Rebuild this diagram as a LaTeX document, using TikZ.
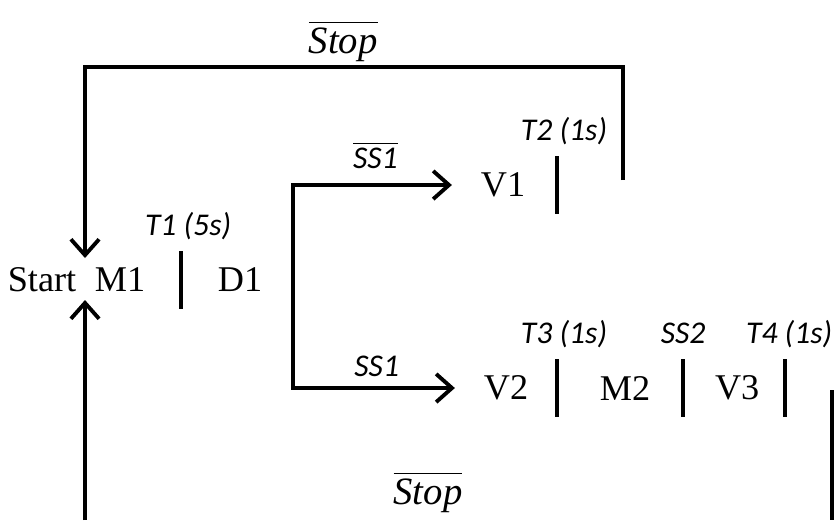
\documentclass[tikz,border=0pt]{standalone}
\usepackage{fontspec}
\setmainfont{Liberation Serif}
\newfontfamily\lblfont{Carlito}
\tikzstyle{place}=[inner sep=2pt,font=\fontsize{10.3}{12}\selectfont]
\tikzstyle{bar}=[rectangle,fill=black,inner sep=0pt,
minimum width=0.045cm,minimum height=0.58cm]
\tikzstyle{lbl}=[inner sep=1pt,text height=6.8pt,text depth=2.2pt,
font=\lblfont\itshape\fontsize{9}{11}\selectfont]
\tikzstyle{cond}=[inner sep=1pt,font=\itshape\fontsize{11}{13}\selectfont]
\newcommand{\ovl}[1]{$\overline{\mbox{#1}}$}
\usetikzlibrary{arrows.meta,positioning}

\begin{document}
\begin{tikzpicture}[x=0.01cm,y=-0.01cm,line width=1.1pt,
    >={Straight Barb[length=4.5pt,width=8pt]},
    every label/.style={lbl},label distance=0mm]
            \useasboundingbox (0,0) rectangle (834,520);

            % START PART

            \node[place] (start) at (42,280) {Start};
            \node[place,right of=start,node distance=0.78cm] (m1) {M1};
            \node[bar,right of=m1,node distance=0.61cm,  label={[xshift=0.07cm]above:T1 (5s)}] (t1) {};
            \node[place,right of=t1,node distance=0.59cm] (d1) {D1};
            \coordinate[right of=d1,node distance=0.53cm] (fork);

            % V1 PART

            \node[place] (v1) at (503,185) {V1};
            \node[bar,right of=v1,node distance=0.54cm,  label={[xshift=0.07cm]above:T2 (1s)}] (t2) {};

            % V2 PART

            \node[place] (v2) at (506,388) {V2};
            \node[bar,right of=v2,node distance=0.51cm,  label={[xshift=0.07cm]above:T3 (1s)}] (t3) {};
            \node[place,right of=t3,node distance=0.68cm] (m2) {M2};
            \node[bar,right of=m2,node distance=0.58cm,  label=above:SS2] (t4) {};
            \node[place,right of=t4,node distance=0.54cm] (v3) {V3};
            \node[bar,right of=v3,node distance=0.48cm,  label={[xshift=0.04cm]above:T4 (1s)}] (t5) {};

            % loop ends
            \coordinate (in1) at (85,258);
            \coordinate (in2) at (85,300);
            \coordinate (tl) at (85,67);
            \coordinate (s2) at (623,180);
            \coordinate (s3) at (832,390);
            \coordinate (br) at (832,520);
            \coordinate (bl) at (85,520);

            \draw[->,shorten >=0.2cm] (fork) |- node[pos=0.73,above=0.3mm,lbl] {\ovl{SS1}} (v1);
            \draw[->,shorten >=0.2cm] (fork) |- node[pos=0.73,above=-0.2mm,lbl] {SS1} (v2);

            \draw[->] (s2) |- node[pos=0.76,above,cond] {\ovl{Stop}} (tl) -- (in1);
            \draw (s3) -- (br);
            \draw[->] (bl) -- (in2);
            \node[cond] (stop2) at (428,492) {\ovl{Stop}};

        \end{tikzpicture}
\end{document}
